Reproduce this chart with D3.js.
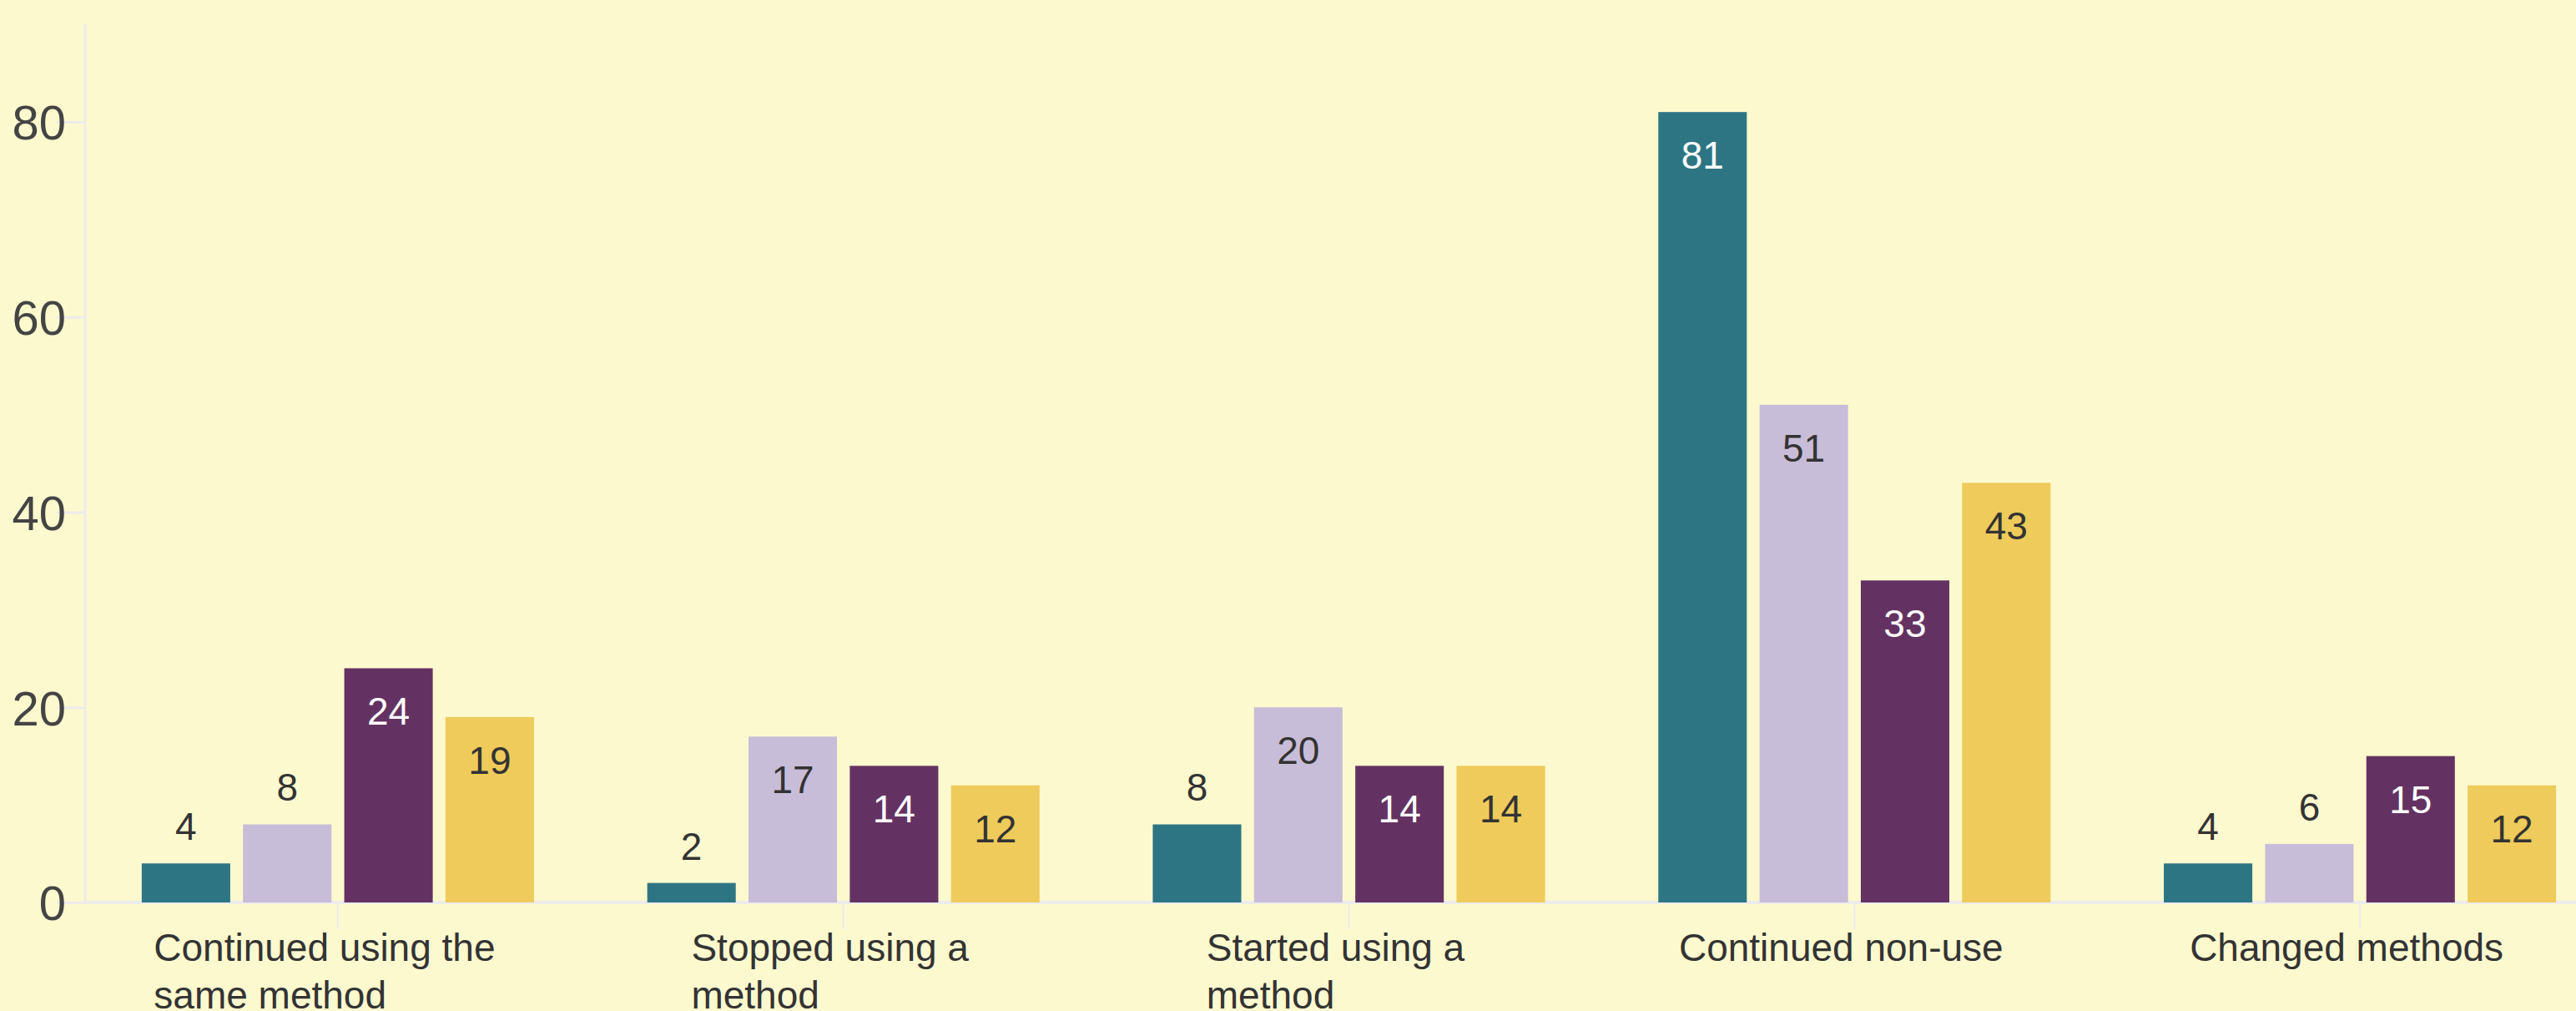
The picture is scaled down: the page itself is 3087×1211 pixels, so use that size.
<!DOCTYPE html>
<html>
<head>
<meta charset="utf-8">
<script src="https://cdn.jsdelivr.net/npm/d3@7"></script>
<style>
  html, body { margin: 0; padding: 0; background: #fdf9cf; }
  svg { display: block; font-family: "Liberation Sans", Arial, sans-serif; }
</style>
</head>
<body>
<div id="chart"></div>
<script>
// categories and series values
const categories = ["Continued using the same method", "Stopped using a method", "Started using a method", "Continued non-use", "Changed methods"]
const seriesNames = ["s1", "s2", "s3", "s4"]
const s1 = [4, 2, 8, 81, 4]
const s2 = [8, 17, 20, 51, 6]
const s3 = [24, 14, 14, 33, 15]
const s4 = [19, 12, 14, 43, 12]
const yTicks = [0, 20, 40, 60, 80]

const seriesColors = ["#2e7584", "#c8bdd8", "#643262", "#eecb5a"]
const labelColors = ["#ffffff", "#333333", "#ffffff", "#333333"]

// setup the dimensions (the plot runs a bit past the right edge, as in the original)
const W = 3087, H = 1211
const margin = { top: 29, right: -44, bottom: 130, left: 102 }
const baseY = H - margin.bottom

const svg = d3.select("#chart").append("svg")
    .attr("width", W)
    .attr("height", H)

svg.append("rect").attr("width", W).attr("height", H).attr("fill", "#fdf9cf")

// build rows from the arrays
const rows = categories.map(function (c, i) {
    return { cat: c, vals: [s1[i], s2[i], s3[i], s4[i]] }
})

// scales
const x0 = d3.scaleBand()
    .domain(categories)
    .range([margin.left, W - margin.right])
    .paddingInner(0.224)
    .paddingOuter(0.112)
const x1 = d3.scaleBand()
    .domain(seriesNames)
    .range([0, x0.bandwidth()])
    .paddingInner(0.126)
const y = d3.scaleLinear()
    .domain([0, 90])
    .range([baseY, margin.top])

// y axis
const yAxis = svg.append("g")
    .attr("transform", "translate(" + margin.left + ",0)")
    .call(d3.axisLeft(y).tickValues(yTicks).tickSize(34).tickPadding(-11).tickFormat(d3.format("d")))
yAxis.select(".domain").remove()
yAxis.selectAll(".tick line").attr("stroke", "#ececec").attr("stroke-width", 3)
yAxis.selectAll(".tick text")
    .attr("fill", "#444444")
    .style("font-size", "58px")
    .attr("dy", "0.36em")
svg.append("line")
    .attr("x1", margin.left).attr("x2", margin.left)
    .attr("y1", y(90)).attr("y2", baseY)
    .attr("stroke", "#ececec").attr("stroke-width", 3)

// x axis base line and ticks
svg.append("line")
    .attr("x1", margin.left).attr("x2", W)
    .attr("y1", baseY).attr("y2", baseY)
    .attr("stroke", "#ececec").attr("stroke-width", 4)
svg.selectAll("line.cat-tick")
    .data(categories)
    .enter().append("line")
    .attr("class", "cat-tick")
    .attr("x1", function (d) { return x0(d) + x0.bandwidth() / 2 })
    .attr("x2", function (d) { return x0(d) + x0.bandwidth() / 2 })
    .attr("y1", baseY)
    .attr("y2", baseY + 32)
    .attr("stroke", "#ececec").attr("stroke-width", 2)

// bars
const groups = svg.selectAll("g.grp")
    .data(rows)
    .enter().append("g")
    .attr("class", "grp")
    .attr("transform", function (d) { return "translate(" + x0(d.cat) + ",0)" })

groups.selectAll("rect")
    .data(function (d) { return d.vals.map(function (v, i) { return { v: v, i: i } }) })
    .enter().append("rect")
    .attr("x", function (d) { return x1(seriesNames[d.i]) })
    .attr("width", x1.bandwidth())
    .attr("y", function (d) { return y(d.v) })
    .attr("height", function (d) { return baseY - y(d.v) })
    .attr("fill", function (d) { return seriesColors[d.i] })

// value labels: inside the bar at the top when tall enough, otherwise above
groups.selectAll("text.val")
    .data(function (d) { return d.vals.map(function (v, i) { return { v: v, i: i } }) })
    .enter().append("text")
    .attr("class", "val")
    .attr("x", function (d) { return x1(seriesNames[d.i]) + x1.bandwidth() / 2 })
    .attr("y", function (d) { return d.v >= 10 ? y(d.v) + 68 : y(d.v) - 28 })
    .attr("text-anchor", "middle")
    .style("font-size", "46px")
    .attr("fill", function (d) { return d.v >= 10 ? labelColors[d.i] : "#333333" })
    .text(function (d) { return d.v })

// category labels, wrapped and left aligned
const wrapWidth = 450
const catLabels = svg.selectAll("text.cat")
    .data(categories)
    .enter().append("text")
    .attr("class", "cat")
    .style("font-size", "46px")
    .attr("fill", "#333333")

catLabels.each(function (d) {
    const t = d3.select(this)
    const words = d.split(" ")
    let lines = [], line = []
    const probe = t.append("tspan")
    words.forEach(function (w) {
        line.push(w)
        probe.text(line.join(" "))
        if (probe.node().getComputedTextLength() > wrapWidth && line.length > 1) {
            line.pop()
            lines.push(line.join(" "))
            line = [w]
        }
    })
    lines.push(line.join(" "))
    probe.remove()
    let maxW = 0
    const spans = lines.map(function (l, k) {
        const s = t.append("tspan").attr("dy", k === 0 ? 0 : 57).text(l)
        maxW = Math.max(maxW, s.node().getComputedTextLength())
        return s
    })
    const left = x0(d) + x0.bandwidth() / 2 - 16 - maxW / 2
    t.attr("y", baseY + 70)
    spans.forEach(function (s) { s.attr("x", left) })
})
</script>
</body>
</html>
